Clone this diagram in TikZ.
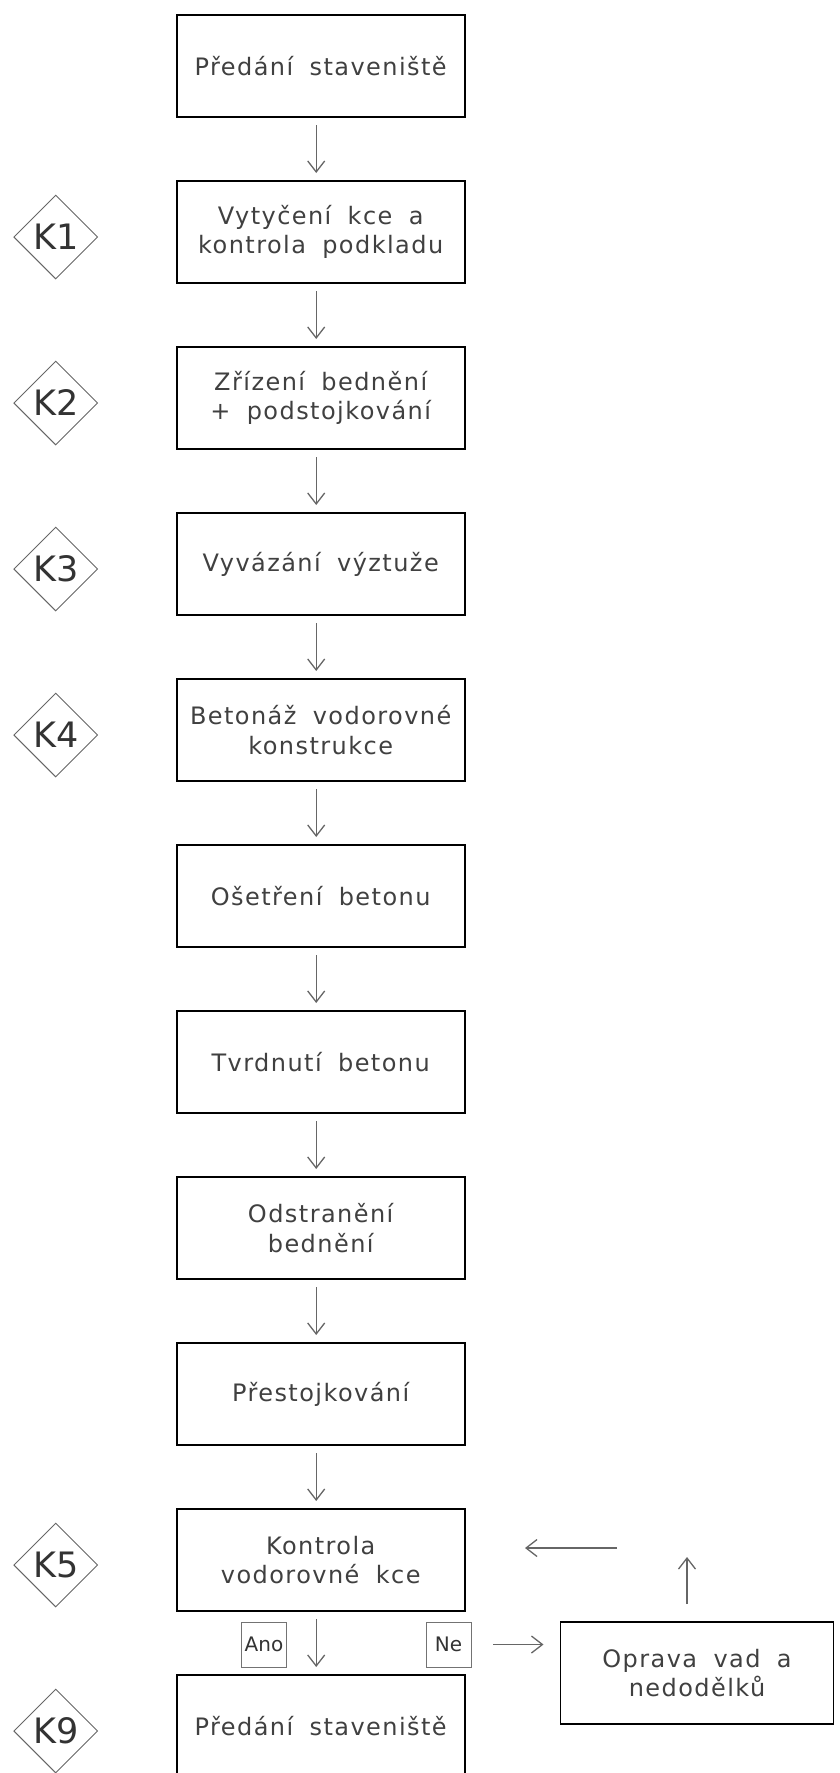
\documentclass[tikz,border=0pt]{standalone}
\usepackage{fontspec}
\setmainfont{DejaVu Sans}[LetterSpace=6,WordSpace=1.8]
\usetikzlibrary{shapes,arrows.meta,calc,positioning}

\begin{document}
\begin{tikzpicture}[x=1pt,y=1pt,
    block/.style={minimum width=288pt,minimum height=102pt,outer sep=0pt,draw,line width=1.8pt,rectangle,align=center,text=black!75,font=\fontsize{24}{29.5}\selectfont,node distance=64pt},
    kbox/.style={diamond,aspect=1,minimum size=84pt,inner sep=0pt,draw=black!60,line width=0.9pt,text=black!80,font=\fontsize{35}{35}\selectfont\addfontfeature{LetterSpace=0}},
    tag/.style={draw=black!55,line width=0.9pt,minimum width=45pt,minimum height=45pt,inner sep=0pt,text=black!80,font=\fontsize{20}{20}\selectfont\addfontfeature{LetterSpace=0}},
    arr/.style={draw=black!60,line width=1.3pt,-{Straight Barb[length=11pt,width=17pt]}}]

        \useasboundingbox (0,0) rectangle (840,-1773);

        \node [block] at (320.7,-66) (p1) {Předání staveniště};
        \node [block, below = of p1] (p2) {Vytyčení kce a\\kontrola podkladu};
        \node [block, below = of p2] (p3) {Zřízení bednění\\+ podstojkování};
        \node [block, below = of p3] (p4) {Vyvázání výztuže};
        \node [block, below = of p4] (p5) {Betonáž vodorovné\\konstrukce};
        \node [block, below = of p5] (p6) {Ošetření betonu};
        \node [block, below = of p6] (p7) {Tvrdnutí betonu};
        \node [block, below = of p7] (p8) {Odstranění\\bednění};
        \node [block, below = of p8] (p9) {Přestojkování};
        \node [block, below = of p9] (p10) {Kontrola\\vodorovné kce};
        \node [block, below = of p10] (p11) {Předání staveniště};

        \node [block, minimum width=273pt] at (697,-1673) (fix) {Oprava vad a\\nedodělků};

        \foreach \k/\b in {1/p2,2/p3,3/p4,4/p5,5/p10,9/p11}
          \node [kbox] at ($(\b)+(-265,-5)$) (k\k) {K\k};

        \foreach \a/\b in {p1/p2,p2/p3,p3/p4,p4/p5,p5/p6,p6/p7,p7/p8,p8/p9,p9/p10,p10/p11}
          \draw [arr, shorten <=8pt, shorten >=8pt] ([xshift=-4.5pt]\a.south) -- ([xshift=-4.5pt]\b.north);

        \node [tag] at (264,-1644.5) (ano) {Ano};
        \node [tag] at (448.5,-1644.5) (ne) {Ne};

        \coordinate (up) at (687,-1557);
        \coordinate (ret) at (617,-1548);
        \coordinate (back) at (525,-1548);

          \draw [arr, shorten <=22pt, shorten >=17pt] (ne.east) -- (ne.east -| fix.west);
          \draw [arr, shorten <=18pt] (fix.north -| up) -- (up);
          \draw [arr] (ret) -- (back);
        \end{tikzpicture}
\end{document}
